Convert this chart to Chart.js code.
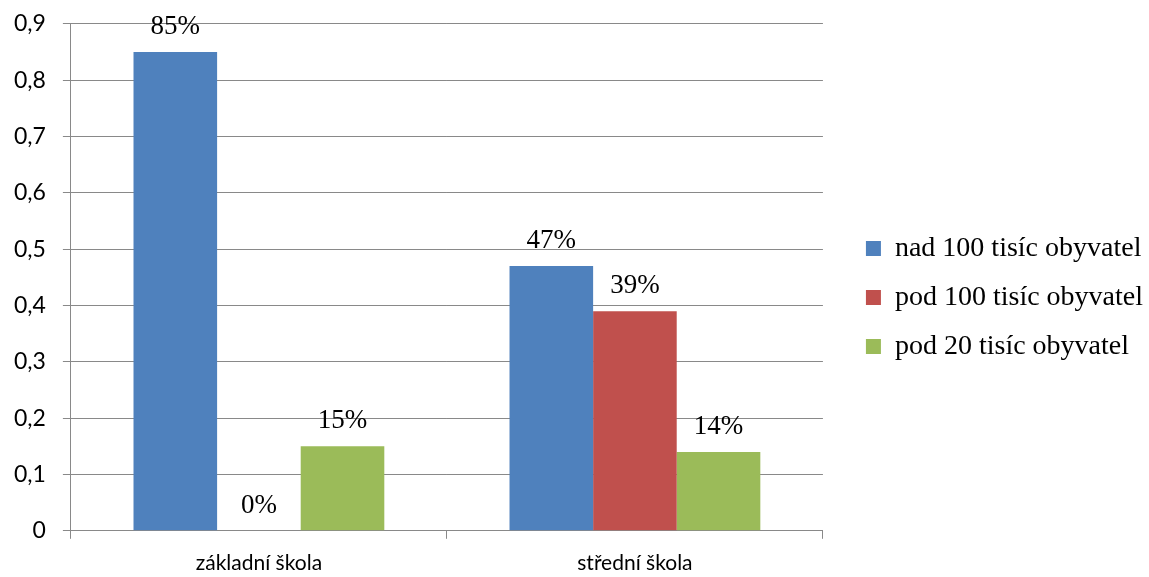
<!DOCTYPE html>
<html>
<head>
<meta charset="utf-8">
<script src="https://cdn.jsdelivr.net/npm/chart.js@4/dist/chart.umd.min.js"></script>
<style>
  html, body { margin: 0; padding: 0; background: #fff; }
  #wrap { width: 1149px; height: 577px; }
</style>
</head>
<body>
<div id="wrap"><canvas id="graf"></canvas></div>
<script>
const kategorie = ['základní škola', 'střední škola'];
const nad100 = [0.85, 0.47];
const pod100 = [0, 0.39];
const pod20 = [0.15, 0.14];
const nazvySerii = ['nad 100 tisíc obyvatel', 'pod 100 tisíc obyvatel', 'pod 20 tisíc obyvatel'];

const BARVY = ['#4F81BD', '#C0504D', '#9BBB59'];
const MRIZKA = '#898989';

// popisky nad sloupci (procenta)
const popisky = {
  id: 'popisky',
  afterDatasetsDraw(chart) {
    const ctx = chart.ctx;
    ctx.save();
    ctx.font = '27px "Liberation Serif"';
    ctx.fillStyle = '#000';
    ctx.textAlign = 'center';
    ctx.textBaseline = 'alphabetic';
    chart.data.datasets.forEach((ds, i) => {
      chart.getDatasetMeta(i).data.forEach((el, j) => {
        ctx.fillText(Math.round(ds.data[j] * 100) + '%', el.x, el.y - 18);
      });
    });
    ctx.restore();
  }
};

new Chart(document.getElementById('graf'), {
  type: 'bar',
  data: {
    labels: kategorie,
    datasets: [nad100, pod100, pod20].map((d, i) => ({
      label: nazvySerii[i],
      data: d,
      backgroundColor: BARVY[i],
      borderWidth: 0,
      categoryPercentage: 0.667,
      barPercentage: 1
    }))
  },
  options: {
    responsive: true,
    maintainAspectRatio: false,
    animation: false,
    layout: { padding: { top: 3, right: -4, left: -3, bottom: -11 } },
    plugins: {
      tooltip: { enabled: false },
      legend: {
        position: 'right',
        maxWidth: 400,
        // prazdny titulek posune polozky trochu dolu
        title: { display: true, text: '', font: { size: 1, lineHeight: 1 }, padding: { top: 3, bottom: 0 } },
        labels: {
          boxWidth: 15,
          boxHeight: 15,
          padding: 21,
          color: '#000',
          font: { family: 'Liberation Serif', size: 28 }
        }
      }
    },
    scales: {
      x: {
        grid: { display: true, drawOnChartArea: false, drawTicks: true, tickLength: 8, color: MRIZKA, offset: true },
        border: { color: MRIZKA },
        ticks: { color: '#000', font: { family: 'Lato', size: 21 }, padding: 12 }
      },
      y: {
        min: 0,
        max: 0.9,
        ticks: {
          stepSize: 0.1,
          color: '#000',
          padding: 17,
          font: { family: 'Lato', size: 23, lineHeight: 0.6 },
          callback: v => v === 0 ? '0' : v.toFixed(1).replace('.', ',')
        },
        grid: { color: MRIZKA, tickLength: 8 },
        border: { color: MRIZKA }
      },
      // prazdna osa vpravo jen kvuli mezere pred legendou
      mezera: {
        position: 'right',
        grid: { display: false },
        border: { display: false },
        ticks: { display: false },
        afterFit: s => { s.width = 22; }
      }
    }
  },
  plugins: [popisky]
});
</script>
</body>
</html>
